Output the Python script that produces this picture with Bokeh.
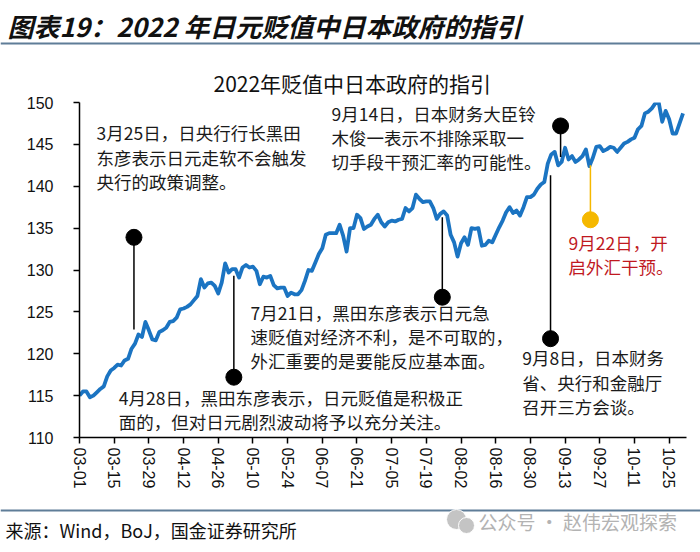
from bokeh.plotting import figure
from bokeh.layouts import column
from bokeh.models import Range1d, FixedTicker, Title
from bokeh.core.properties import value
from bokeh.embed import file_html
from bokeh.resources import INLINE

# ---------------- data ----------------
title_text = "图表19：2022 年日元贬值中日本政府的指引"
chart_title = "2022年贬值中日本政府的指引"
source_text = "来源：Wind，BoJ，国金证券研究所"
watermark_text = "公众号 · 赵伟宏观探索"

# USD/JPY, one value per weekday, 2022-03-01 .. 2022-10-31
usdjpy_mar = [115.0, 115.5, 115.5, 114.8, 115.0, 115.4, 115.8, 116.1, 117.3, 118.0,
              118.3, 118.7, 118.6, 119.2, 119.4, 120.6, 121.2, 122.3, 122.0, 123.8,
              122.8, 121.7, 121.6]
usdjpy_apr = [122.6, 122.8, 123.1, 123.8, 123.9, 124.3, 125.3, 125.4, 125.6, 125.9,
              126.4, 126.9, 128.9, 127.9, 128.4, 128.5, 128.1, 127.2, 128.5, 130.8,
              129.7]
usdjpy_may = [130.1, 130.1, 129.1, 130.3, 130.6, 130.3, 130.4, 129.9, 128.3, 129.2,
              129.1, 129.3, 128.2, 127.8, 127.9, 127.9, 126.9, 127.3, 127.1, 127.1,
              127.6, 128.7]
usdjpy_jun = [130.0, 129.9, 130.9, 131.9, 132.6, 134.2, 134.4, 134.4, 134.4, 135.4,
              134.1, 132.2, 135.0, 135.0, 136.6, 136.2, 134.9, 135.2, 135.4, 136.1,
              136.6, 135.7]
usdjpy_jul = [135.2, 135.7, 135.9, 135.8, 136.0, 136.1, 137.4, 137.0, 137.4, 139.0,
              138.5, 138.1, 138.2, 138.2, 137.4, 136.1, 136.7, 137.0, 136.5, 134.2,
              133.3]
usdjpy_aug = [131.6, 133.2, 133.9, 133.0, 135.0, 134.9, 135.0, 132.9, 133.0, 133.5,
              133.3, 134.2, 135.1, 135.9, 136.9, 137.5, 136.8, 137.1, 136.5, 137.5,
              138.7, 138.7, 139.0]
usdjpy_sep = [139.7, 140.2, 140.5, 142.7, 143.8, 144.1, 142.5, 142.9, 144.6, 143.2,
              143.6, 142.9, 143.2, 143.6, 144.4, 142.4, 143.4, 144.7, 144.8, 144.2,
              144.4, 144.7]
usdjpy_oct = [144.6, 144.1, 144.6, 145.1, 145.3, 145.6, 145.8, 146.8, 147.2, 148.7,
              148.9, 149.3, 149.9, 150.0, 147.7, 149.0, 148.0, 146.3, 146.3, 147.5,
              148.7]
usdjpy = (usdjpy_mar + usdjpy_apr + usdjpy_may + usdjpy_jun + usdjpy_jul
          + usdjpy_aug + usdjpy_sep + usdjpy_oct)
day_index = list(range(len(usdjpy)))

# one tick every 10 trading days (two calendar weeks)
tick_labels = ["03-01", "03-15", "03-29", "04-12", "04-26", "05-10", "05-24", "06-07",
               "06-21", "07-05", "07-19", "08-02", "08-16", "08-30", "09-13", "09-27",
               "10-11", "10-25"]
y_ticks = [110, 115, 120, 125, 130, 135, 140, 145, 150]

# events: annotation text lines
event_lines = [
    ["3月25日，日央行行长黑田", "东彦表示日元走软不会触发", "央行的政策调整。"],
    ["9月14日，日本财务大臣铃", "木俊一表示不排除采取一", "切手段干预汇率的可能性。"],
    ["9月22日，开", "启外汇干预。"],
    ["7月21日，黑田东彦表示日元急", "速贬值对经济不利，是不可取的，", "外汇重要的是要能反应基本面。"],
    ["4月28日，黑田东彦表示，日元贬值是积极正", "面的，但对日元剧烈波动将予以充分关注。"],
    ["9月8日，日本财务", "省、央行和金融厅", "召开三方会谈。"],
]
event_text_colors = ["#1a1a1a", "#1a1a1a", "#C0191F", "#1a1a1a", "#1a1a1a", "#1a1a1a"]

# pins: position on the day axis, dot level, other end of the stem
pin_x = [15.7, 44.5, 104.6, 135.8, 138.7, 147.3]
pin_dot_y = [133.9, 117.2, 126.75, 121.8, 147.2, 136.0]
pin_end_y = [122.9, 129.3, 136.3, 141.3, 143.5, 142.5]
pin_colors = ["#000000", "#000000", "#000000", "#000000", "#000000", "#F5B800"]

# ---------------- layout / style ----------------
W = 700
CJK = "Noto Sans CJK SC"
LAT = "Liberation Sans"
BLUE = "#1b74c2"
RULE = "#5f7d98"

# text block anchors (day index, value) and line step in value units
text_anchor_x = [4.9, 72.65, 140.98, 49.3, 11.33, 127.63]
text_anchor_y = [146.38, 148.72, 133.32, 124.96, 114.78, 119.52]
line_step = 2.9

# header
HH = 52
head = figure(width=W, height=HH, x_range=Range1d(0, W), y_range=Range1d(HH, 0),
              x_axis_type=None, y_axis_type=None, output_backend="svg",
              toolbar_location=None, min_border=0)
head.frame_align = False
head.outline_line_color = None
head.text(x=[7], y=[25], text=[title_text], text_font=value(CJK),
          text_font_style="bold italic", text_font_size="26px", text_color="#111111",
          text_baseline="middle", text_align="left")
head.line(x=[0, W], y=[43, 43], line_color=RULE, line_width=2)

# main chart (frame: x 79..686, y 102..437 of the page)
MH = 448
p = figure(width=W, height=MH, x_range=Range1d(0, 175), y_range=Range1d(110, 150),
           output_backend="svg", toolbar_location=None,
           min_border_left=79, min_border_right=14, min_border_top=50,
           min_border_bottom=63)
p.frame_align = False
p.outline_line_color = None
p.xgrid.visible = False
p.ygrid.visible = False
p.title = Title(text=chart_title, align="left", offset=134, standoff=10,
                text_font=CJK, text_font_size="21px", text_font_style="normal",
                text_color="#111111")

p.line(x=day_index, y=usdjpy, line_color=BLUE, line_width=3.8, line_join="round")

# pins
p.segment(x0=pin_x, y0=pin_dot_y, x1=pin_x, y1=pin_end_y,
          line_color=pin_colors, line_width=1.5)
p.scatter(x=pin_x, y=pin_dot_y, size=16, fill_color=pin_colors,
          line_color=pin_colors)

# annotation texts
tx, ty, tt, tc = [], [], [], []
for lines, ax, ay, col in zip(event_lines, text_anchor_x, text_anchor_y, event_text_colors):
    for k, ln in enumerate(lines):
        tx.append(ax)
        ty.append(ay - k * line_step)
        tt.append(ln)
        tc.append(col)
p.text(x=tx, y=ty, text=tt, text_color=tc, text_font=value(CJK),
       text_font_size="17.5px", text_baseline="middle", text_align="left")

# axes
tick_pos = [10 * i for i in range(len(tick_labels))]
p.xaxis.ticker = FixedTicker(ticks=tick_pos)
p.xaxis.major_label_overrides = {tp: lab for tp, lab in zip(tick_pos, tick_labels)}
p.xaxis.major_label_orientation = "vertical"
p.yaxis.ticker = FixedTicker(ticks=y_ticks)
for ax in (p.xaxis[0], p.yaxis[0]):
    ax.axis_line_color = "#000000"
    ax.axis_line_width = 1.5
    ax.major_tick_line_color = "#000000"
    ax.major_tick_line_width = 1.5
    ax.major_tick_out = 6
    ax.major_tick_in = 0
    ax.minor_tick_out = 0
    ax.minor_tick_in = 0
    ax.major_label_text_font = LAT
    ax.major_label_text_color = "#111111"
p.xaxis.major_label_text_font_size = "16px"
p.yaxis.major_label_text_font_size = "16px"
p.xaxis.major_label_standoff = 4
p.yaxis.major_label_standoff = 20

# footer
FH = 52
foot = figure(width=W, height=FH, x_range=Range1d(0, W), y_range=Range1d(FH, 0),
              x_axis_type=None, y_axis_type=None, output_backend="svg",
              toolbar_location=None, min_border=0)
foot.frame_align = False
foot.outline_line_color = None
foot.line(x=[0, W], y=[10, 10], line_color=RULE, line_width=2)
foot.text(x=[5], y=[29], text=[source_text], text_font=value(CJK),
          text_font_size="18px", text_color="#111111",
          text_baseline="middle", text_align="left")
foot.scatter(x=[456, 466], y=[19, 25], size=[20, 16], fill_color="#c4c4c4",
             line_color="white", line_width=1)
foot.text(x=[478], y=[21], text=[watermark_text], text_font=value(CJK),
          text_font_size="19px", text_color="#b3b3b3",
          text_baseline="middle", text_align="left")

layout = column(head, p, foot, spacing=0)
open("out.html", "w").write(file_html(layout, INLINE))
